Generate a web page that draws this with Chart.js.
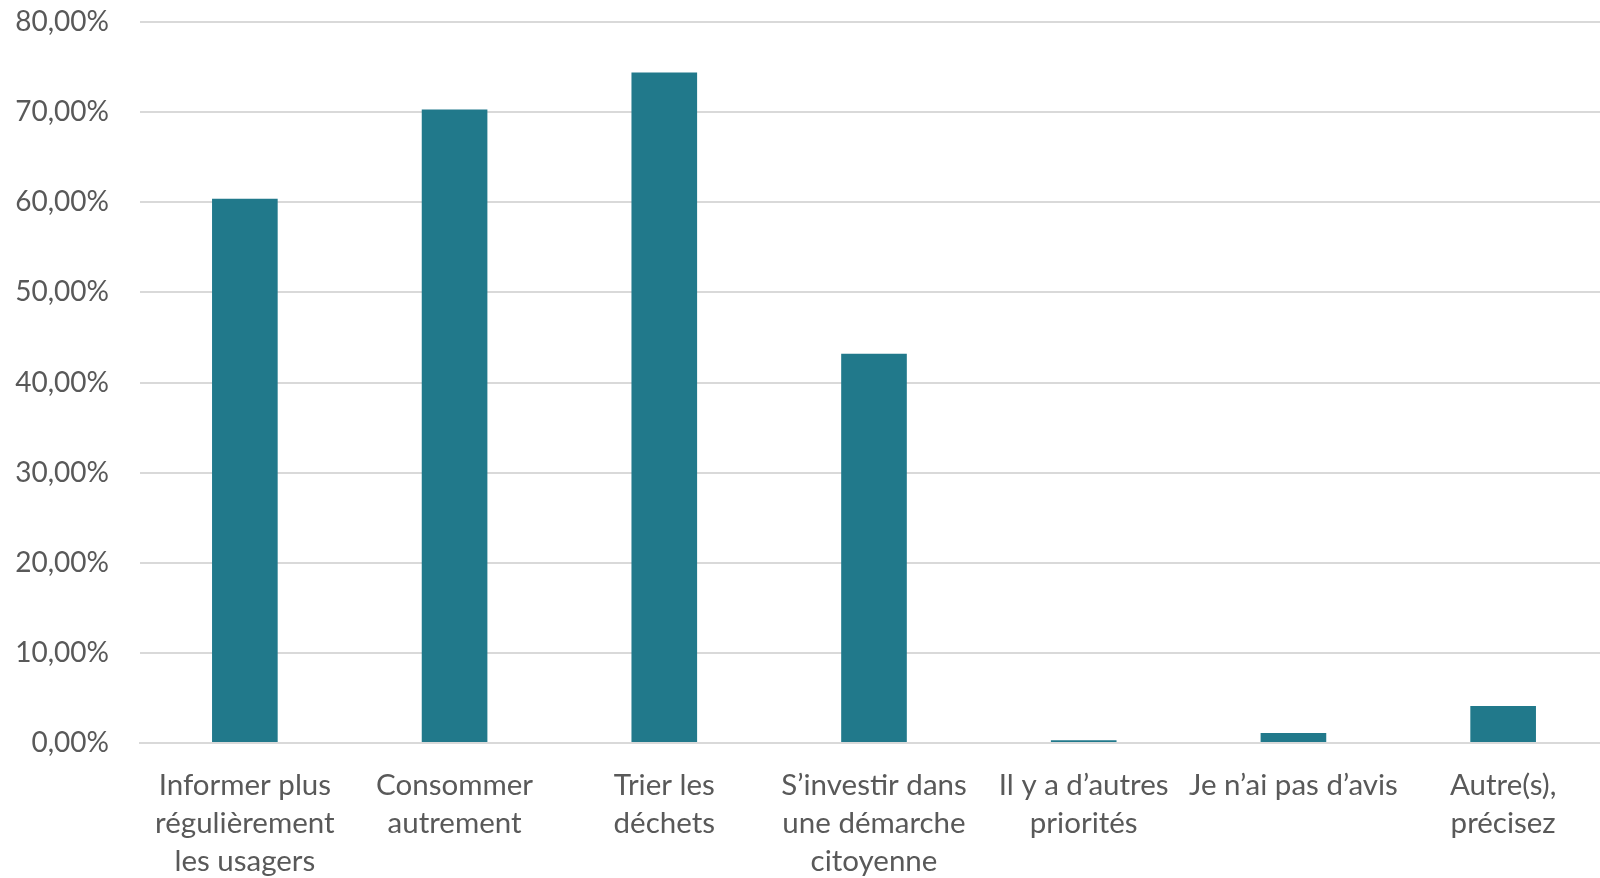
<!DOCTYPE html>
<html>
<head>
<meta charset="utf-8">
<script src="https://cdn.jsdelivr.net/npm/chart.js@4/dist/chart.umd.min.js"></script>
<style>
  html, body { margin: 0; padding: 0; background: #fff; }
  #wrap { width: 1600px; height: 878px; position: relative; }
</style>
</head>
<body>
<div id="wrap"><canvas id="chart"></canvas></div>
<script>
// categories (multi-line labels as in the original)
const CATEGORIES = [
  ['Informer plus', 'régulièrement', 'les usagers'],
  ['Consommer', 'autrement'],
  ['Trier les', 'déchets'],
  ['S’investir dans', 'une démarche', 'citoyenne'],
  ['Il y a d’autres', 'priorités'],
  ['Je n’ai pas d’avis'],
  ['Autre(s),', 'précisez']
];
// share of answers, %
const VALUES = [60.4, 70.3, 74.4, 43.2, 0.3, 1.1, 4.1];
const Y_MAX = 80;
const Y_STEP = 10;

const BAR_COLOR = '#21798b';
const TEXT_COLOR = '#595959';
const GRID_COLOR = '#d9d9d9';
const FONT = 'Lato, "Open Sans", sans-serif';

// the original's category axis runs a few px past the right edge
const extendRight = {
  id: 'extendRight',
  afterLayout(chart) {
    const x = chart.scales.x;
    x.right += 8;
    x.width += 8;
    x.configure();
  }
};

new Chart(document.getElementById('chart'), {
  type: 'bar',
  data: {
    labels: CATEGORIES,
    datasets: [{
      data: VALUES,
      backgroundColor: BAR_COLOR,
      borderWidth: 0,
      barPercentage: 0.313,
      categoryPercentage: 1
    }]
  },
  options: {
    responsive: true,
    maintainAspectRatio: false,
    animation: false,
    layout: { padding: { top: 22, right: 0, left: 0, bottom: 0 } },
    plugins: { legend: { display: false }, tooltip: { enabled: false } },
    scales: {
      x: {
        grid: { display: false },
        border: { color: GRID_COLOR, width: 2 },
        ticks: {
          color: TEXT_COLOR,
          font: { family: FONT, size: 29.5, lineHeight: 1.3 },
          padding: 15,
          maxRotation: 0,
          autoSkip: false
        },
        afterFit: s => { s.height = 135; s.paddingLeft = 0; s.paddingRight = 0; }
      },
      y: {
        min: 0,
        max: Y_MAX,
        grid: { color: GRID_COLOR, lineWidth: 2, drawTicks: false },
        border: { display: false },
        ticks: {
          stepSize: Y_STEP,
          color: TEXT_COLOR,
          font: { family: FONT, size: 28 },
          padding: 31,
          callback: v => v.toFixed(2).replace('.', ',') + '%'
        },
        afterFit: s => { s.width = 140; s.paddingTop = 0; s.paddingBottom = 0; }
      }
    }
  },
  plugins: [extendRight]
});
</script>
</body>
</html>
